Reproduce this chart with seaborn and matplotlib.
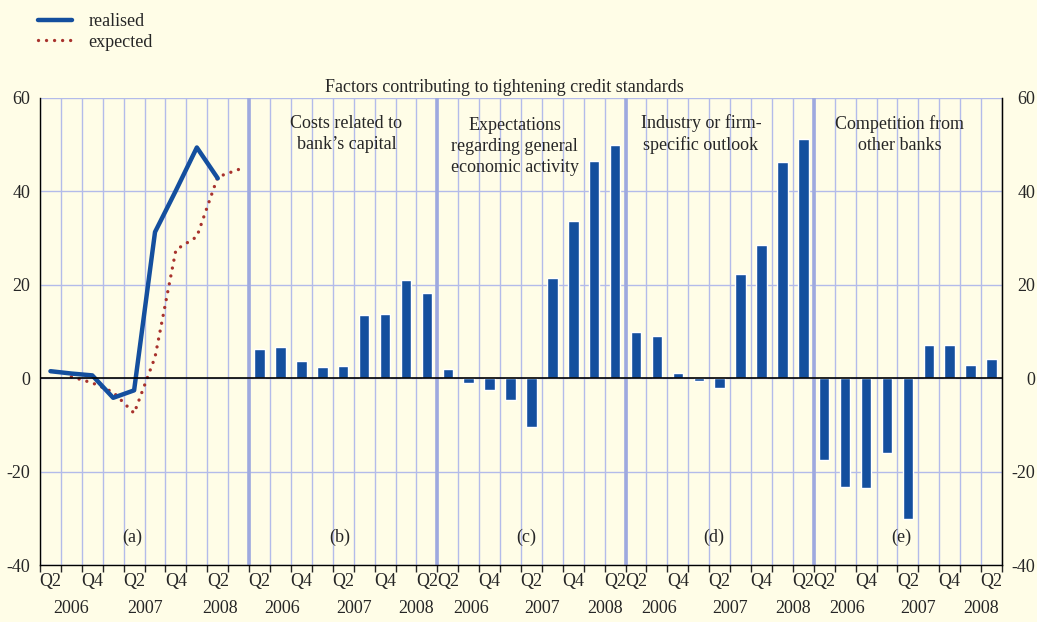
import numpy as np
import pandas as pd
import matplotlib
matplotlib.use("Agg")
import matplotlib.pyplot as plt
import matplotlib.transforms as mtransforms
import seaborn as sns

# panel (a): realised and expected net tightening, Q2 2006 - Q2 2008 (+ Q3 2008 expected)
realised = [1.5, 1.0, 0.6, -4.2, -2.6, 31.3, 40.2, 49.4, 42.8]
expected = [np.nan, 0.3, -1.0, -3.0, -7.5, 4.5, 27.5, 30.3, 43.1, 44.7]

# panels (b)-(e): contributing factors, Q2 2006 - Q2 2008
costs = [6.3, 6.7, 3.7, 2.5, 2.7, 13.5, 13.8, 21.0, 18.3]
expectations = [1.9, -1.0, -2.6, -4.6, -10.4, 21.4, 33.7, 46.5, 50.0]
industry = [9.9, 9.1, 1.2, -0.5, -2.1, 22.4, 28.6, 46.3, 51.2]
competition = [-17.6, -23.2, -23.6, -16.0, -30.1, 7.2, 7.2, 2.9, 4.2]

panel_titles = ["Costs related to\nbank\u2019s capital",
                "Expectations\nregarding general\neconomic activity",
                "Industry or firm-\nspecific outlook",
                "Competition from\nother banks"]
panel_letters = ["(a)", "(b)", "(c)", "(d)", "(e)"]
q_labels = ["Q2", "Q4", "Q2", "Q4", "Q2"]
years = ["2006", "2007", "2008"]

blue = "#144f9e"
red = "#a8322d"
bg = "#fffde7"
grid_col = "#b3bbea"

sns.set_style("ticks")
plt.rcParams["font.family"] = ["Liberation Serif", "DejaVu Serif"]
plt.rcParams["font.size"] = 13
plt.rcParams["axes.unicode_minus"] = False

# slot layout: panel a has 10 quarters, the others 9
starts = [0, 10, 19, 28, 37]
bar_series = [costs, expectations, industry, competition]
rows = []
for i, vals in enumerate(bar_series):
    for q, v in enumerate(vals):
        rows.append({"pos": starts[i + 1] + q + 0.5, "value": v})
bars = pd.DataFrame(rows)

fig = plt.figure(figsize=(10.37, 6.22), dpi=100, facecolor=bg)
ax = fig.add_axes([40 / 1037, 1 - 565 / 622, 962 / 1037, 467 / 622])
ax.set_facecolor(bg)

sns.barplot(data=bars, x="pos", y="value", native_scale=True, color=blue,
            saturation=1, width=0.5, errorbar=None, ax=ax, zorder=3)

pos_a = np.arange(10) + 0.5
sns.lineplot(x=pos_a[:9], y=realised, color=blue, lw=3.2, ax=ax,
             label="realised", zorder=5)
sns.lineplot(x=pos_a, y=expected, color=red, lw=2.4, ax=ax,
             linestyle=(0, (0.01, 2.4)), dash_capstyle="round",
             label="expected", zorder=4)

ax.set_xlim(0, 46)
ax.set_ylim(-40, 60)
ax.set_xlabel("")
ax.set_ylabel("")
ax.set_xticks(range(47))
ax.set_yticks([-40, -20, 0, 20, 40, 60])
ax.grid(True, color=grid_col, lw=1)
ax.set_axisbelow(True)
for s in starts[1:]:
    ax.axvline(s, color="#9ea9df", lw=2.6, zorder=1)
ax.axhline(0, color="black", lw=1.2, zorder=6)

ax.tick_params(axis="x", length=5, width=1, labelbottom=False, direction="out")
ax.tick_params(axis="y", length=0, pad=7, labelsize=13)
for side in ["left", "right", "bottom"]:
    ax.spines[side].set_color("black")
    ax.spines[side].set_linewidth(1)
ax.spines["top"].set_visible(False)

# right-hand labels, right aligned near the figure edge
ax2 = ax.twinx()
ax2.set_ylim(-40, 60)
ax2.set_yticks([-40, -20, 0, 20, 40, 60])
ax2.tick_params(axis="y", length=0, pad=24, labelsize=13)
for lab in ax2.get_yticklabels():
    lab.set_horizontalalignment("right")
for side in ["left", "top", "bottom"]:
    ax2.spines[side].set_visible(False)
ax2.spines["right"].set_color("black")

# x labels: quarters and years
trans = mtransforms.blended_transform_factory(ax.transData, ax.transAxes)
for i, s in enumerate(starts):
    for k, lab in enumerate(q_labels):
        ax.text(s + 2 * k + 0.5, -0.036, lab, transform=trans,
                ha="center", va="center", fontsize=13)
    year_pos = [1.5, 5.0, 8.6] if i == 0 else [1.6, 5.0, 8.0]
    for yp, yr in zip(year_pos, years):
        ax.text(s + yp, -0.094, yr, transform=trans,
                ha="center", va="center", fontsize=13)

# panel letters
letter_off = [4.4, 4.35, 4.25, 4.2, 4.2]
for s, off, lab in zip(starts, letter_off, panel_letters):
    ax.text(s + off, -34, lab, ha="center", va="center", fontsize=13)

# panel titles
title_off = [4.65, 3.7, 3.6, 4.1]
title_y = [52.2, 49.7, 52.2, 52.2]
for s, off, ty, lab in zip(starts[1:], title_off, title_y, panel_titles):
    ax.text(s + off, ty, lab, ha="center", va="center", fontsize=13,
            linespacing=1.3, zorder=7)

fig.text(504 / 1037, 1 - 87 / 622, "Factors contributing to tightening credit standards",
         ha="center", va="center", fontsize=13)

handles, labels = ax.get_legend_handles_labels()
ax.get_legend().remove()
fig.legend(handles, labels, loc="upper left", bbox_to_anchor=(38 / 1037, 1 - 13 / 622),
           frameon=False, fontsize=13, handlelength=1.9, handletextpad=0.9,
           labelspacing=0.2, borderpad=0, borderaxespad=0)

fig.savefig("out.png", dpi=100, facecolor=bg)
